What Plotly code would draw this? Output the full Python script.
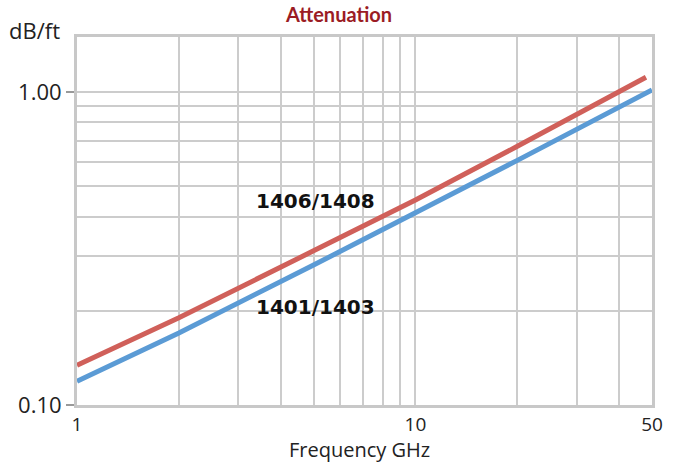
import plotly.graph_objects as go

freq_red = [1, 2, 5, 10, 20, 48]
att_red = [0.134, 0.190, 0.311, 0.452, 0.671, 1.115]
freq_blue = [1, 2, 5, 10, 20, 50]
att_blue = [0.119, 0.170, 0.280, 0.410, 0.605, 1.015]
label_red = "1406/1408"
label_blue = "1401/1403"

x_ticks = [1, 10, 50]
x_ticktext = ["1", "10", "50"]
x_minor = [2, 3, 4, 5, 6, 7, 8, 9, 20, 30, 40]
y_ticks = [0.1, 1.0]
y_ticktext = ["0.10", "1.00"]
y_minor = [0.2, 0.3, 0.4, 0.5, 0.6, 0.7, 0.8, 0.9]

RED = "#d0605a"
BLUE = "#5b9bd5"
GRID = "#cccccc"
FONT = "Open Sans"
TXT = "#222222"

fig = go.Figure()
fig.add_trace(go.Scatter(x=freq_red, y=att_red, mode="lines",
                         line=dict(color=RED, width=5), showlegend=False))
fig.add_trace(go.Scatter(x=freq_blue, y=att_blue, mode="lines",
                         line=dict(color=BLUE, width=5), showlegend=False))

fig.add_annotation(x=0.706, y=-0.3466, xref="x", yref="y", text="<b>" + label_red + "</b>",
                   showarrow=False, font=dict(family="DejaVu Sans", size=20, color="#111111"))
fig.add_annotation(x=0.706, y=-0.688, xref="x", yref="y", text="<b>" + label_blue + "</b>",
                   showarrow=False, font=dict(family="DejaVu Sans", size=20, color="#111111"))

fig.update_layout(
    width=678, height=463,
    margin=dict(l=77, r=26, t=37, b=58),
    paper_bgcolor="white", plot_bgcolor="white",
    title=dict(text="<b>Attenuation</b>", x=0.5, xanchor="center", y=0.968, yanchor="middle",
               font=dict(family="Lato", size=20, color="#9b1c24")),
    font=dict(family=FONT, color=TXT),
)
fig.update_xaxes(type="log", range=[0, 1.69897],
                 tickvals=x_ticks, ticktext=x_ticktext,
                 tickfont=dict(family=FONT, size=19, color=TXT),
                 showgrid=True, gridcolor=GRID, gridwidth=2,
                 minor=dict(tickvals=x_minor, showgrid=True, gridcolor=GRID, gridwidth=2, ticks=""),
                 showline=True, linecolor="#c8c8c8", linewidth=3, mirror=True,
                 ticks="", zeroline=False)
fig.update_yaxes(type="log", range=[-1, 0.176],
                 tickvals=y_ticks, ticktext=y_ticktext,
                 tickfont=dict(family=FONT, size=22, color=TXT),
                 showgrid=True, gridcolor=GRID, gridwidth=2,
                 minor=dict(tickvals=y_minor, showgrid=True, gridcolor=GRID, gridwidth=2, ticks=""),
                 showline=True, linecolor="#c8c8c8", linewidth=3, mirror=True,
                 ticks="outside", ticklen=8, tickwidth=2, tickcolor="#999999",
                 zeroline=False)

fig.add_annotation(x=0.492, y=-0.122, xref="paper", yref="paper", xanchor="center", yanchor="middle",
                   text="Frequency GHz", showarrow=False,
                   font=dict(family=FONT, size=20, color=TXT))
fig.add_annotation(x=0, y=1.020, xref="paper", yref="paper", xanchor="right", yanchor="middle",
                   xshift=-15, text="dB/ft", showarrow=False,
                   font=dict(family=FONT, size=22, color=TXT))

fig.write_html("out.html")
